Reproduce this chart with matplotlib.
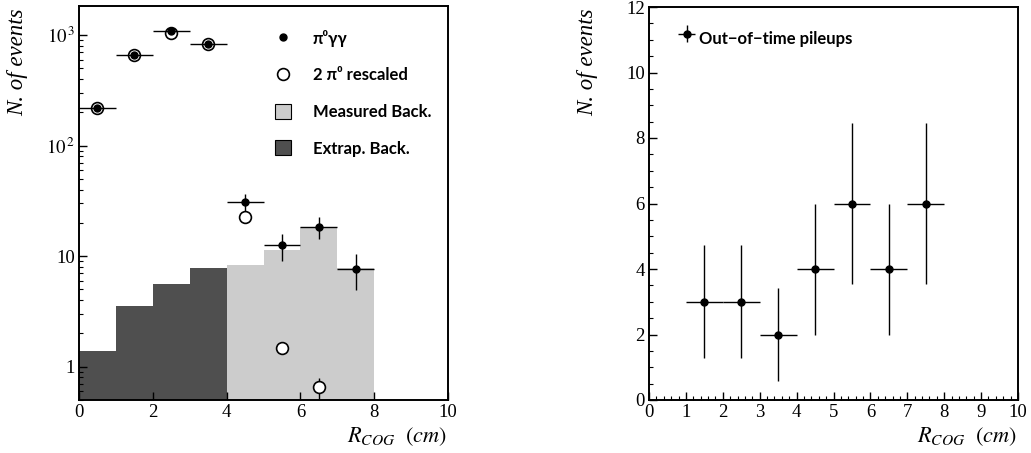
"""
Distribuição em R_COG: sinal pi0 gamma gamma e pileups fora de tempo
"""

import matplotlib
matplotlib.use("Agg")
import matplotlib.pyplot as plt
from matplotlib.patches import Patch
from matplotlib.lines import Line2D
from matplotlib.ticker import MultipleLocator, LogLocator, NullFormatter

# --- dados ---
bin_edges = [0, 1, 2, 3, 4, 5, 6, 7, 8]
bin_centers = [0.5, 1.5, 2.5, 3.5, 4.5, 5.5, 6.5, 7.5]

pigg_values = [220, 660, 1090, 830, 31, 12.5, 18.5, 7.7]
pigg_errors = [15, 26, 33, 29, 5.6, 3.5, 4.3, 2.8]

two_pi0_x = [0.5, 1.5, 2.5, 3.5, 4.5, 5.5, 6.5]
two_pi0_values = [220, 660, 1050, 830, 22.8, 1.47, 0.65]
two_pi0_errors = [0, 0, 0, 0, 0, 0.15, 0.14]

extrap_edges = [0, 1, 2, 3, 4]
extrap_back = [1.4, 3.55, 5.6, 7.8]
measured_edges = [4, 5, 6, 7, 8]
measured_back = [8.4, 11.4, 18.5, 7.8]

pileup_x = [1.5, 2.5, 3.5, 4.5, 5.5, 6.5, 7.5]
pileup_values = [3, 3, 2, 4, 6, 4, 6]
pileup_errors = [1.73, 1.73, 1.41, 2.0, 2.45, 2.0, 2.45]

log_ticks = [1, 10, 100, 1000]
log_tick_labels = ["1", "10", "$10^{\\,2}$", "$10^{\\,3}$"]

# --- estilo ---
plt.rcParams["font.family"] = ["Liberation Serif", "DejaVu Serif"]
plt.rcParams["mathtext.fontset"] = "stix"
legend_font = {"family": ["Lato", "DejaVu Sans"], "weight": "bold", "size": 12}

W, H = 1031, 453
fig = plt.figure(figsize=(W / 100, H / 100), dpi=100)

ax1 = fig.add_axes([79 / W, (H - 400) / H, 369 / W, 394 / H])
ax2 = fig.add_axes([649 / W, (H - 400) / H, 369 / W, 393 / H])

for ax in (ax1, ax2):
    for sp in ax.spines.values():
        sp.set_linewidth(1.4)
    ax.tick_params(which="both", direction="in", top=False, right=False,
                   labelsize=13.5, pad=3)
    ax.tick_params(which="major", length=6, width=1.0)
    ax.tick_params(which="minor", length=3, width=0.8)

# --- painel esquerdo ---
ax1.set_yscale("log")
ax1.set_xlim(0, 10)
ax1.set_ylim(0.5, 1830)

ax1.stairs(extrap_back, extrap_edges, baseline=0.5, fill=True,
           color="#4f4f4f", linewidth=0, zorder=1)
ax1.stairs(measured_back, measured_edges, baseline=0.5, fill=True,
           color="#cccccc", linewidth=0, zorder=1)

ax1.errorbar(two_pi0_x, two_pi0_values, yerr=two_pi0_errors, fmt="o",
             ms=8.5, mfc="white", mec="black", mew=1.2, ecolor="black",
             elinewidth=1.0, capsize=0, zorder=3)
ax1.errorbar(bin_centers, pigg_values, xerr=0.5, yerr=pigg_errors, fmt="o",
             ms=5, color="black", ecolor="black", elinewidth=1.0, capsize=0,
             zorder=4)

ax1.set_xticks([0, 2, 4, 6, 8, 10])
ax1.set_yticks(log_ticks, labels=log_tick_labels)
ax1.yaxis.set_minor_locator(LogLocator(base=10, subs=range(2, 10)))
ax1.yaxis.set_minor_formatter(NullFormatter())

handles1 = [
    Line2D([], [], marker="o", ls="none", ms=5, color="black"),
    Line2D([], [], marker="o", ls="none", ms=8.5, mfc="white", mec="black", mew=1.2),
    Patch(facecolor="#cccccc", edgecolor="black", linewidth=0.8),
    Patch(facecolor="#4f4f4f", edgecolor="black", linewidth=0.8),
]
labels1 = ["π⁰γγ", "2 π⁰ rescaled", "Measured Back.", "Extrap. Back."]
ax1.legend(handles1, labels1, loc="upper left", bbox_to_anchor=(0.53, 0.94),
           frameon=False, prop=legend_font, handlelength=1.0, handleheight=1.0,
           handletextpad=1.3, labelspacing=1.23, borderpad=0, borderaxespad=0)

# --- painel direito ---
ax2.set_xlim(0, 10)
ax2.set_ylim(0, 12)
ax2.errorbar(pileup_x, pileup_values, xerr=0.5, yerr=pileup_errors, fmt="o",
             ms=5, color="black", ecolor="black", elinewidth=1.0, capsize=0,
             label="Out−of−time pileups")
ax2.xaxis.set_major_locator(MultipleLocator(1))
ax2.xaxis.set_minor_locator(MultipleLocator(0.2))
ax2.yaxis.set_major_locator(MultipleLocator(2))
ax2.yaxis.set_minor_locator(MultipleLocator(0.5))
ax2.legend(loc="upper left", bbox_to_anchor=(0.075, 0.958), frameon=False,
           prop=legend_font, handlelength=1.2, handleheight=2.4,
           handletextpad=0.15, borderpad=0, borderaxespad=0)

# --- rótulos dos eixos ---
label_font = {"family": ["Liberation Serif"], "style": "italic", "size": 16.5}
for x0 in (18, 588):
    fig.text(x0 / W, 1 - 9 / H, "N. of events", rotation=90, ha="center",
             va="top", **label_font)
for x1 in (447, 1017):
    fig.text(x1 / W, 11 / H, r"$R_{COG}\ \ (cm)$", ha="right", va="baseline",
             fontsize=16)

fig.savefig("out.png", dpi=100)
